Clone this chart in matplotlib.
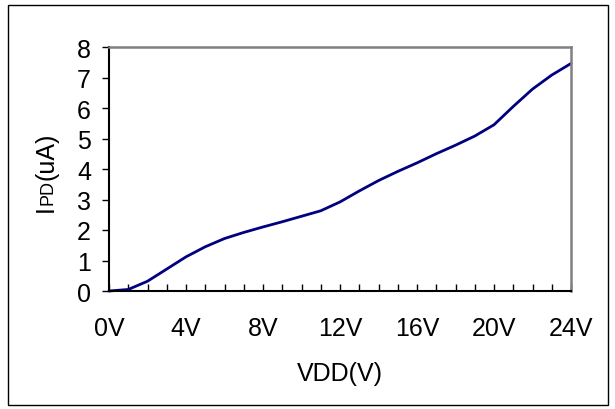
import matplotlib
matplotlib.use("Agg")
import matplotlib.pyplot as plt
from matplotlib.patches import Rectangle
from matplotlib.ticker import MultipleLocator

plt.rcParams['font.family'] = ['Liberation Sans', 'DejaVu Sans']

vdd = list(range(0, 25))
ipd = [0.0, 0.05, 0.32, 0.72, 1.12, 1.45, 1.72, 1.92, 2.10, 2.27, 2.45, 2.63,
       2.92, 3.28, 3.62, 3.92, 4.20, 4.50, 4.78, 5.08, 5.45, 6.05, 6.62, 7.08, 7.46]
x_ticks = [0, 4, 8, 12, 16, 20, 24]
x_tick_labels = ["0V", "4V", "8V", "12V", "16V", "20V", "24V"]
y_ticks = [0, 1, 2, 3, 4, 5, 6, 7, 8]

W, H = 615, 410
FS = 18
fig = plt.figure(figsize=(W / 100, H / 100), dpi=100)
ax = fig.add_axes([109 / W, (H - 292) / H, 462 / W, 244 / H])

ax.plot(vdd, ipd, color="#000080", lw=2.0, solid_capstyle="round",
        solid_joinstyle="round", clip_on=False)
ax.set_xlim(0, 24)
ax.set_ylim(0, 8)
ax.set_xticks(x_ticks)
ax.set_xticklabels(x_tick_labels)
ax.xaxis.set_minor_locator(MultipleLocator(1))
ax.set_yticks(y_ticks)

ax.tick_params(axis="x", which="both", direction="in", length=5, width=1,
               labelsize=FS, pad=18, color="black")
ax.tick_params(axis="y", which="major", direction="out", length=5, width=1,
               labelsize=FS, pad=8, color="black")
ax.tick_params(axis="x", which="both", top=False)
ax.tick_params(axis="y", which="both", right=False)

for s in ["left", "bottom"]:
    ax.spines[s].set_color("black")
    ax.spines[s].set_linewidth(1.5)
for s in ["top", "right"]:
    ax.spines[s].set_color("#808080")
    ax.spines[s].set_linewidth(1.8)

ax.set_xlabel("VDD(V)", fontsize=FS, labelpad=15)

# outer frame
fig.patches.append(Rectangle((7.5 / W, (H - 406) / H), (608 - 7.5) / W, 400 / H,
                             transform=fig.transFigure, fill=False,
                             edgecolor="black", lw=1.0))

# y label: I + small PD + (uA), rotated
pieces = [("I", FS), ("PD", 13), ("(uA)", FS)]
fig.canvas.draw()
renderer = fig.canvas.get_renderer()
xb = 53 / W
texts = []
lengths = []
for s, fs in pieces:
    t = fig.text(xb, 0.5, s, fontsize=fs, rotation=90, rotation_mode="anchor",
                 ha="left", va="baseline")
    bb = t.get_window_extent(renderer)
    lengths.append(bb.height)
    texts.append(t)
total = sum(lengths)
center = (H - 172)
start = center - total / 2
for t, L in zip(texts, lengths):
    t.set_position((xb, start / H))
    start += L

fig.savefig("out.png", dpi=100)
